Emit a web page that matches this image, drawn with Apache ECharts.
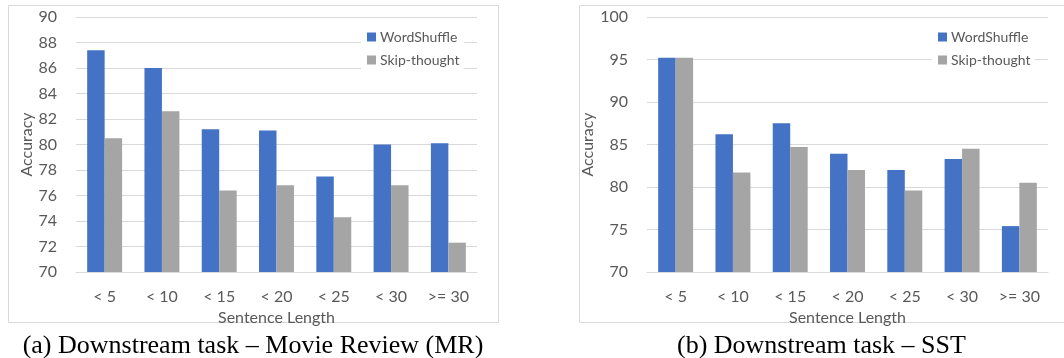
<!DOCTYPE html>
<html>
<head>
<meta charset="utf-8">
<script src="https://cdn.jsdelivr.net/npm/echarts@6/dist/echarts.min.js"></script>
<style>
  html, body { margin: 0; padding: 0; background: #ffffff; }
  #chart { width: 1064px; height: 358px; }
</style>
</head>
<body>
<div id="chart"></div>
<script>
const categories = ['< 5', '< 10', '< 15', '< 20', '< 25', '< 30', '>= 30'];
const seriesNames = ['WordShuffle', 'Skip-thought'];
const mrWordShuffle = [87.4, 86.0, 81.2, 81.1, 77.5, 80.0, 80.1];
const mrSkipThought = [80.5, 82.6, 76.4, 76.8, 74.3, 76.8, 72.3];
const sstWordShuffle = [95.2, 86.2, 87.5, 83.9, 82.0, 83.3, 75.4];
const sstSkipThought = [95.2, 81.7, 84.7, 82.0, 79.6, 84.5, 80.5];
const mrAxis = { min: 70, max: 90, interval: 2 };
const sstAxis = { min: 70, max: 100, interval: 5 };
const xAxisName = 'Sentence Length';
const yAxisName = 'Accuracy';
const captionA = '(a) Downstream task – Movie Review (MR)';
const captionB = '(b) Downstream task – SST';

const BLUE = '#4472C4';
const GRAY = '#A5A5A5';
const TEXT = '#595959';
const GRID = '#D9D9D9';
const FONT = 'Lato';

function xAxisFor(gi) {
  return {
    type: 'category', gridIndex: gi, data: categories,
    axisLine: { show: true, lineStyle: { color: GRID, width: 1 } },
    axisTick: { show: false },
    axisLabel: { color: TEXT, fontFamily: FONT, fontSize: 16, margin: 17 },
    name: xAxisName, nameLocation: 'middle', nameGap: 27,
    nameTextStyle: { color: TEXT, fontFamily: FONT, fontSize: 16 }
  };
}
function yAxisFor(gi, ax, gap) {
  return {
    type: 'value', gridIndex: gi, min: ax.min, max: ax.max, interval: ax.interval,
    axisLine: { show: false }, axisTick: { show: false },
    splitLine: { show: true, lineStyle: { color: GRID, width: 1 } },
    axisLabel: { color: TEXT, fontFamily: FONT, fontSize: 16, margin: 19 },
    name: yAxisName, nameLocation: 'middle', nameGap: gap,
    nameTextStyle: { color: TEXT, fontFamily: FONT, fontSize: 16 }
  };
}
function barSeries(name, data, gi, color) {
  return {
    type: 'bar', name: name, data: data,
    xAxisIndex: gi, yAxisIndex: gi,
    itemStyle: { color: color },
    barGap: '0%', barCategoryGap: '39%',
    animation: false
  };
}
function legendFor(left) {
  return {
    data: seriesNames, orient: 'vertical', left: left, top: 26,
    itemWidth: 9, itemHeight: 9, itemGap: 9,
    icon: 'rect',
    backgroundColor: '#ffffff',
    padding: [4, 4, 10, 6],
    textStyle: { color: TEXT, fontFamily: FONT, fontSize: 14, padding: [0, 0, 0, -1] }
  };
}

const chart = echarts.init(document.getElementById('chart'), null, { renderer: 'canvas' });
chart.setOption({
  animation: false,
  backgroundColor: '#ffffff',
  grid: [
    { left: 76, right: 587, top: 17, bottom: 86 },
    { left: 647, right: 16, top: 17, bottom: 86 }
  ],
  xAxis: [xAxisFor(0), xAxisFor(1)],
  yAxis: [yAxisFor(0, mrAxis, 41), yAxisFor(1, sstAxis, 44)],
  legend: [legendFor(361), legendFor(932)],
  series: [
    barSeries(seriesNames[0], mrWordShuffle, 0, BLUE),
    barSeries(seriesNames[1], mrSkipThought, 0, GRAY),
    barSeries(seriesNames[0], sstWordShuffle, 1, BLUE),
    barSeries(seriesNames[1], sstSkipThought, 1, GRAY)
  ],
  graphic: [
    { type: 'rect', shape: { x: 8.5, y: 5.5, width: 490, height: 317 }, style: { fill: 'none', stroke: GRID, lineWidth: 1 }, silent: true },
    { type: 'rect', shape: { x: 579.5, y: 5.5, width: 500, height: 317 }, style: { fill: 'none', stroke: GRID, lineWidth: 1 }, silent: true },
    { type: 'text', x: 253, y: 346, style: { text: captionA, fill: '#000000', font: '26px "Liberation Serif"', textAlign: 'center', textVerticalAlign: 'middle' }, silent: true },
    { type: 'text', x: 677, y: 346, style: { text: captionB, fill: '#000000', font: '26px "Liberation Serif"', textAlign: 'left', textVerticalAlign: 'middle' }, silent: true }
  ]
});
</script>
</body>
</html>
